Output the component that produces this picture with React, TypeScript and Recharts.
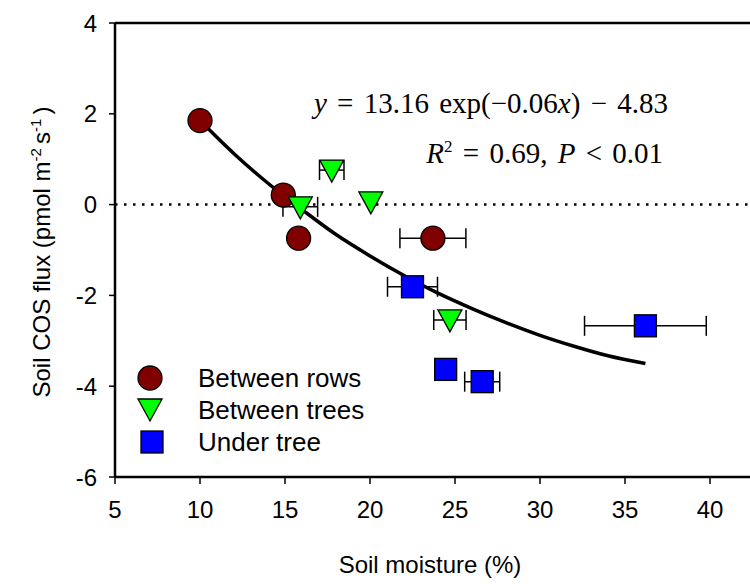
import React from 'react';
import {
  ComposedChart, Scatter, Line, XAxis, YAxis, ErrorBar, ReferenceLine,
} from 'recharts';

// values
const betweenRows = [
  { x: 10.0, y: 1.85 },
  { x: 14.9, y: 0.21 },
  { x: 15.8, y: -0.74 },
  { x: 23.7, y: -0.74, err: 1.94 },
];
const betweenTrees = [
  { x: 15.9, y: -0.05, err: 1.02 },
  { x: 17.75, y: 0.76, err: 0.72 },
  { x: 20.05, y: 0.06 },
  { x: 24.7, y: -2.54, err: 0.95 },
];
const underTree = [
  { x: 22.5, y: -1.81, err: 1.47 },
  { x: 24.45, y: -3.63 },
  { x: 26.6, y: -3.9, err: 1.03 },
  { x: 36.2, y: -2.67, err: 3.58 },
];
// fitted curve
const fitCurve = [
  { x: 10.0, y: 1.85 },
  { x: 12.0, y: 1.12 },
  { x: 14.0, y: 0.47 },
  { x: 16.0, y: -0.11 },
  { x: 18.0, y: -0.66 },
  { x: 20.0, y: -1.13 },
  { x: 22.0, y: -1.56 },
  { x: 24.0, y: -1.95 },
  { x: 26.0, y: -2.29 },
  { x: 28.0, y: -2.6 },
  { x: 30.0, y: -2.88 },
  { x: 32.0, y: -3.12 },
  { x: 34.0, y: -3.33 },
  { x: 36.2, y: -3.5 },
];
const xTicks = [5, 10, 15, 20, 25, 30, 35, 40];
const yTicks = [-6, -4, -2, 0, 2, 4];
const legendItems = ['Between rows', 'Between trees', 'Under tree'];

const SANS = "'Liberation Sans', Arial, sans-serif";
const SERIF = "'Liberation Serif', 'Times New Roman', serif";

const Circle = ({ cx, cy }: any) => (
  <circle cx={cx} cy={cy} r={12} fill="#800000" stroke="#000" strokeWidth={1.3} />
);
const Tri = ({ cx, cy }: any) => (
  <path d={`M${cx - 12},${cy - 10} L${cx + 12},${cy - 10} L${cx},${cy + 12} Z`} fill="#00ff00" stroke="#000" strokeWidth={1.3} />
);
const Square = ({ cx, cy }: any) => (
  <rect x={cx - 11} y={cy - 11} width={22} height={22} fill="#0000ff" stroke="#000" strokeWidth={1.3} />
);

const tick = { fontFamily: SANS, fontSize: 24, fill: '#000' };

export default function App() {
  return (
    <div style={{ position: 'fixed', left: 0, top: 0, width: 750, height: 586, overflow: 'hidden', background: '#fff' }}>
      <ComposedChart width={800} height={586} margin={{ top: 23, right: 5, bottom: 0, left: 0 }}>
        <XAxis
          dataKey="x" type="number" domain={[5, 45]} ticks={xTicks} allowDataOverflow
          tick={tick} tickSize={7} tickMargin={17} height={109}
          axisLine={{ stroke: '#000', strokeWidth: 2.5 }} tickLine={{ stroke: '#000', strokeWidth: 1.5 }}
        />
        <YAxis
          type="number" domain={[-6, 4]} ticks={yTicks} allowDataOverflow
          tick={tick} tickSize={6} tickMargin={12} width={115}
          axisLine={{ stroke: '#000', strokeWidth: 2.5 }} tickLine={{ stroke: '#000', strokeWidth: 1.5 }}
        />
        <ReferenceLine y={4} stroke="#000" strokeWidth={2.5} />
        <ReferenceLine y={0} stroke="#000" strokeWidth={2.5} strokeDasharray="2.5 6.5" />
        <Line data={fitCurve} dataKey="y" type="monotone" stroke="#000" strokeWidth={3.5} dot={false} isAnimationActive={false} />
        <Scatter data={betweenRows} dataKey="y" shape={Circle} isAnimationActive={false}>
          <ErrorBar dataKey="err" direction="x" width={10} stroke="#000" strokeWidth={1.5} />
        </Scatter>
        <Scatter data={betweenTrees} dataKey="y" shape={Tri} isAnimationActive={false}>
          <ErrorBar dataKey="err" direction="x" width={10} stroke="#000" strokeWidth={1.5} />
        </Scatter>
        <Scatter data={underTree} dataKey="y" shape={Square} isAnimationActive={false}>
          <ErrorBar dataKey="err" direction="x" width={10} stroke="#000" strokeWidth={1.5} />
        </Scatter>
      </ComposedChart>

      {/* equation */}
      <div style={{ position: 'absolute', right: 82, top: 89, fontFamily: SERIF, fontSize: 29, lineHeight: 1, wordSpacing: 3, whiteSpace: 'nowrap' }}>
        <i>y</i> = 13.16 exp(−0.06<i>x</i>) − 4.83
      </div>
      <div style={{ position: 'absolute', right: 87, top: 139, fontFamily: SERIF, fontSize: 29, lineHeight: 1, wordSpacing: 3, whiteSpace: 'nowrap' }}>
        <i>R</i><sup style={{ fontSize: 17, lineHeight: 0 }}>2</sup> = 0.69, <i>P</i> &lt; 0.01
      </div>

      {/* legend */}
      <svg style={{ position: 'absolute', left: 0, top: 0 }} width={200} height={586}>
        <Circle cx={150} cy={378} />
        <Tri cx={150} cy={409} />
        <Square cx={152} cy={442} />
      </svg>
      {legendItems.map((t, i) => (
        <div key={t} style={{ position: 'absolute', left: 198, top: 363 + i * 32, fontFamily: SANS, fontSize: 26, lineHeight: '30px', whiteSpace: 'nowrap' }}>{t}</div>
      ))}

      {/* axis titles */}
      <div style={{ position: 'absolute', left: 430, top: 550, transform: 'translateX(-50%)', fontFamily: SANS, fontSize: 24, lineHeight: '30px', whiteSpace: 'nowrap' }}>
        Soil moisture (%)
      </div>
      <div style={{ position: 'absolute', left: 42, top: 252, transform: 'translate(-50%, -50%) rotate(-90deg)', fontFamily: SANS, fontSize: 24, lineHeight: '30px', whiteSpace: 'nowrap' }}>
        Soil COS flux (pmol m<sup style={{ fontSize: 15, lineHeight: 0 }}>-2 </sup> s<sup style={{ fontSize: 15, lineHeight: 0 }}>-1 </sup>)
      </div>
    </div>
  );
}
